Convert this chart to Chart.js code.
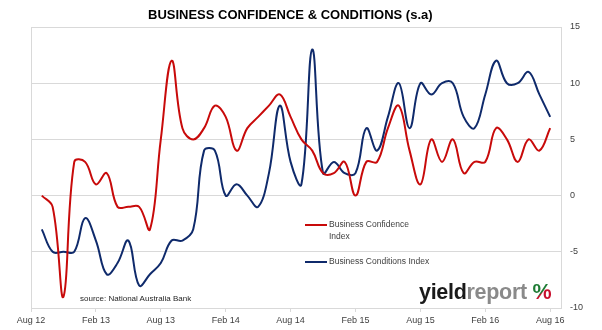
<!DOCTYPE html>
<html>
<head>
<meta charset="utf-8">
<script src="https://cdn.jsdelivr.net/npm/chart.js@4"></script>
<style>
  body { margin: 0; background: #fff; }
  #wrap { position: relative; width: 602px; height: 330px; }
  #title { position: absolute; left: 148px; top: 8px; font: bold 13px "Liberation Sans", Arial, sans-serif; line-height: 14px; color: #000; white-space: nowrap; }
  #source { position: absolute; left: 80px; top: 294px; font: 8px "Liberation Sans", Arial, sans-serif; line-height: 10px; color: #262626; white-space: nowrap; }
  #logo { position: absolute; left: 419px; top: 281px; font: bold 21.5px "Liberation Sans", Arial, sans-serif; line-height: 22px; white-space: nowrap; letter-spacing: -0.3px; }
  #logo .y { color: #1a1a1a; }
  #logo .r { color: #8a8a8a; }
  #logo .p { background: linear-gradient(135deg, #1e7b34 0%, #1e7b34 52%, #c8102e 52%, #c8102e 100%); -webkit-background-clip: text; background-clip: text; color: transparent; }
</style>
</head>
<body>
<div id="wrap">
  <canvas id="chart" width="602" height="330"></canvas>
  <div id="title">BUSINESS CONFIDENCE &amp; CONDITIONS (s.a)</div>
  <div id="source">source: National Australia Bank</div>
  <div id="logo"><span class="y">yield</span><span class="r">report</span> <span class="p">%</span></div>
</div>
<script>
// month axis: Aug 12 .. Sep 16 (data runs Sep 12 .. Aug 16)
const months = [
  'Aug 12','Sep 12','Oct 12','Nov 12','Dec 12',
  'Jan 13','Feb 13','Mar 13','Apr 13','May 13','Jun 13','Jul 13','Aug 13','Sep 13','Oct 13','Nov 13','Dec 13',
  'Jan 14','Feb 14','Mar 14','Apr 14','May 14','Jun 14','Jul 14','Aug 14','Sep 14','Oct 14','Nov 14','Dec 14',
  'Jan 15','Feb 15','Mar 15','Apr 15','May 15','Jun 15','Jul 15','Aug 15','Sep 15','Oct 15','Nov 15','Dec 15',
  'Jan 16','Feb 16','Mar 16','Apr 16','May 16','Jun 16','Jul 16','Aug 16','Sep 16'
];
const tickLabels = ['Aug 12','Feb 13','Aug 13','Feb 14','Aug 14','Feb 15','Aug 15','Feb 16','Aug 16'];

// Sep 12 .. Aug 16
const confidence = [
   0, -1, -9,  3,  3,  1,  2, -1, -1, -1, -3,  5,
  12,  6,  5,  6,  8,  7,  4,  6,  7,  8,  9,  7,
   5,  4,  2,  2,  3,  0,  3,  3,  6,  8,  4,  1,
   5,  3,  5,  2,  3,  3,  6,  5,  3,  5,  4,  6
];
const conditions = [
  -3, -5, -5, -5, -2, -4, -7, -6, -4, -8, -7, -6,
  -4, -4, -3,  4,  4,  0,  1,  0, -1,  2,  8,  3,
   1, 13,  2,  3,  2,  2,  6,  4,  7, 10,  6, 10,
   9, 10, 10,  7,  6,  9, 12, 10, 10, 11,  9,  7
];
const yTicks = [-10, -5, 0, 5, 10, 15];

const RED  = '#c80a0a';
const BLUE = '#0f2a6b';
const GRID = '#d9d9d9';

const legendItems = [
  { lines: ['Business Confidence', 'Index'], color: RED,  y: 225 },
  { lines: ['Business Conditions Index'],    color: BLUE, y: 262 }
];

const frame = {
  id: 'frame',
  beforeDatasetsDraw(chart) {
    const { ctx, chartArea: a } = chart;
    ctx.save();
    ctx.strokeStyle = GRID;
    ctx.lineWidth = 1;
    ctx.beginPath();
    ctx.moveTo(a.left + 0.5, a.top);
    ctx.lineTo(a.left + 0.5, a.bottom);
    ctx.stroke();
    ctx.restore();
  },
  afterDatasetsDraw(chart) {
    const ctx = chart.ctx;
    ctx.save();
    ctx.font = '8.5px "Liberation Sans", Arial, sans-serif';
    ctx.textBaseline = 'middle';
    ctx.fillStyle = '#404040';
    legendItems.forEach(it => {
      ctx.strokeStyle = it.color;
      ctx.lineWidth = 2;
      ctx.beginPath();
      ctx.moveTo(305, it.y);
      ctx.lineTo(327, it.y);
      ctx.stroke();
      it.lines.forEach((t, k) => ctx.fillText(t, 329, it.y + k * 12));
    });
    ctx.restore();
  }
};

const pad = v => [null, ...v, null];

new Chart(document.getElementById('chart').getContext('2d'), {
  type: 'line',
  data: {
    labels: months,
    datasets: [
      { label: 'Business Confidence Index', data: pad(confidence), borderColor: RED,  borderWidth: 2, pointRadius: 0, tension: 0.4 },
      { label: 'Business Conditions Index', data: pad(conditions), borderColor: BLUE, borderWidth: 2, pointRadius: 0, tension: 0.4 }
    ]
  },
  options: {
    responsive: false,
    animation: false,
    devicePixelRatio: 1,
    layout: { padding: { left: 31, top: 27, right: 0, bottom: 0 } },
    plugins: { legend: { display: false }, tooltip: { enabled: false } },
    scales: {
      x: {
        offset: false,
        grid: {
          drawOnChartArea: false,
          color: GRID,
          tickLength: 4
        },
        border: { color: GRID },
        ticks: {
          autoSkip: false,
          maxRotation: 0,
          padding: 3,
          color: '#404040',
          font: { family: '"Liberation Sans", Arial, sans-serif', size: 9 },
          callback: (v, i) => tickLabels.includes(months[i]) ? months[i] : null
        },
        afterFit: s => { s.height = 22; }
      },
      y: {
        position: 'right',
        min: -10, max: 15,
        grid: { color: GRID, drawTicks: false },
        border: { color: GRID },
        afterBuildTicks: s => { s.ticks = yTicks.map(v => ({ value: v })); },
        ticks: {
          padding: 9,
          color: '#404040',
          font: { family: '"Liberation Sans", Arial, sans-serif', size: 9 }
        },
        afterFit: s => { s.width = 41; }
      }
    }
  },
  plugins: [frame]
});
</script>
</body>
</html>
